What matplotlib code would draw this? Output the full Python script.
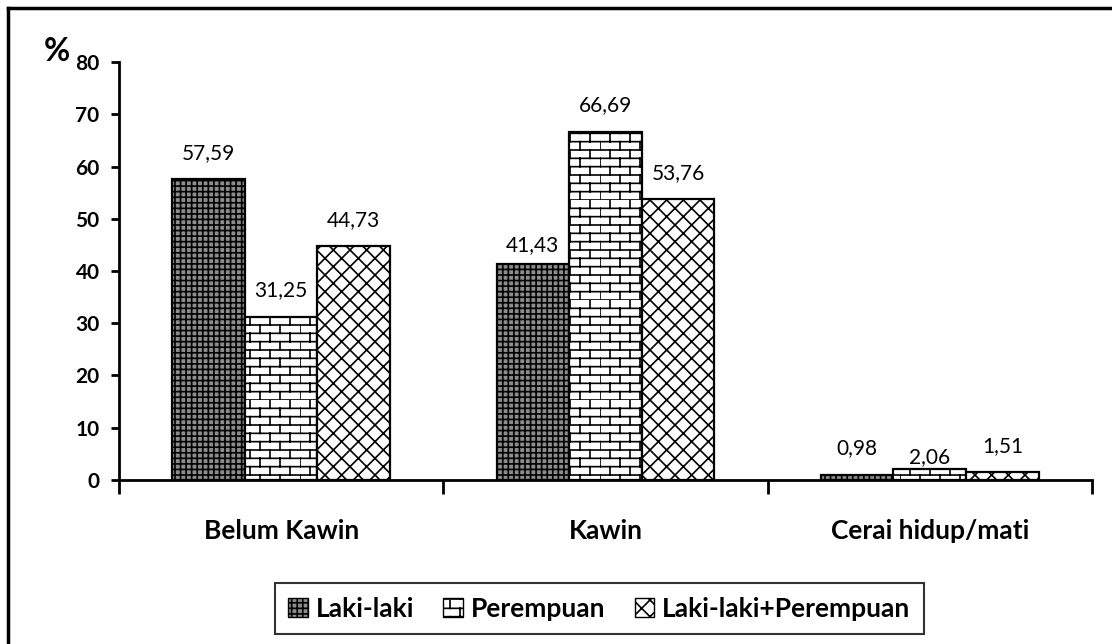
import warnings
import matplotlib
matplotlib.use("Agg")
import matplotlib.pyplot as plt
import numpy as np
from matplotlib import hatch as mhatch
from matplotlib.path import Path
from matplotlib.lines import Line2D
from matplotlib.patches import Patch

warnings.filterwarnings("ignore")

categories = ["Belum Kawin", "Kawin", "Cerai hidup/mati"]
series_names = ["Laki-laki", "Perempuan", "Laki-laki+Perempuan"]
laki = [57.59, 41.43, 0.98]
perempuan = [31.25, 66.69, 2.06]
gabungan = [44.73, 53.76, 1.51]
yticks = [0, 10, 20, 30, 40, 50, 60, 70, 80]


class BrickHatch(mhatch.HatchPatternBase):
    """Brick wall pattern, used with the 'b' hatch character."""

    def __init__(self, hatch, density):
        self.rows = 12 * hatch.count("b")
        self.cols = 5
        self.num_vertices = 2 * (self.rows + self.rows * self.cols)

    def set_vertices_and_codes(self, vertices, codes):
        i = 0
        for k in range(self.rows):
            y0 = k / self.rows
            y1 = (k + 1) / self.rows
            vertices[i] = (0, y0)
            vertices[i + 1] = (1, y0)
            codes[i] = Path.MOVETO
            codes[i + 1] = Path.LINETO
            i += 2
            shift = 0.5 * (k % 2)
            for m in range(self.cols):
                xv = (m + shift) / self.cols
                vertices[i] = (xv, y0)
                vertices[i + 1] = (xv, y1)
                codes[i] = Path.MOVETO
                codes[i + 1] = Path.LINETO
                i += 2


mhatch._hatch_types.append(BrickHatch)

plt.rcParams["font.family"] = ["Lato", "DejaVu Sans"]
plt.rcParams["hatch.linewidth"] = 1.2

fig = plt.figure(figsize=(11.12, 6.44), dpi=100)
ax = fig.add_axes([0.107, 0.2547, 0.875, 0.649])

series = [laki, perempuan, gabungan]
faces = ["#8c8c8c", "white", "white"]
hatches = ["+++", "b", "xx"]
# label offsets in points above bar top
offsets = [[19, 13, 19], [19, 19, 9], [19, 19, 19]]

x = np.arange(len(categories))
w = 0.224
for i, vals in enumerate(series):
    pos = x + (i - 1) * w
    bars = ax.bar(pos, vals, w, color=faces[i], edgecolor="black",
                  hatch=hatches[i], linewidth=1.6, zorder=2)
    for j, (b, v) in enumerate(zip(bars, vals)):
        ax.annotate(f"{v:.2f}".replace(".", ","),
                    (b.get_x() + b.get_width() / 2, v),
                    xytext=(0, offsets[i][j]), textcoords="offset points",
                    ha="center", va="center", fontsize=15)

ax.set_xlim(-0.5, 2.5)
ax.set_ylim(0, 80)
ax.set_yticks(yticks)
ax.set_yticklabels([str(t) for t in yticks], fontweight="bold", fontsize=15)
ax.set_xticks([-0.5, 0.5, 1.5, 2.5])
ax.set_xticklabels([])
ax.tick_params(axis="y", direction="out", length=6, width=2, pad=8)
ax.tick_params(axis="x", direction="out", length=10, width=2)
for c, name in zip(x, categories):
    ax.text(c, -9.8, name, ha="center", va="center",
            fontsize=19, fontweight="bold")

for s in ["top", "right"]:
    ax.spines[s].set_visible(False)
for s in ["left", "bottom"]:
    ax.spines[s].set_linewidth(2)

ax.text(-0.064, 1.024, "%", transform=ax.transAxes, fontsize=23,
        fontweight="bold", ha="center", va="center")

handles = [Patch(facecolor=faces[i], edgecolor="black", hatch=hatches[i])
           for i in range(3)]
leg = fig.legend(handles, series_names, loc="center",
                 bbox_to_anchor=(0.539, 0.055), ncol=3, frameon=True,
                 fancybox=False, edgecolor="black", handlelength=0.75,
                 handleheight=0.75, handletextpad=0.3, columnspacing=1.1,
                 borderpad=0.5, prop={"weight": "bold", "size": 19})
leg.get_frame().set_linewidth(1.5)

# outer frame (left and top edges visible)
fig.add_artist(Line2D([8 / 1112, 8 / 1112], [0, 1 - 8 / 644],
                      color="black", lw=2.5, transform=fig.transFigure))
fig.add_artist(Line2D([8 / 1112, 1], [1 - 8 / 644, 1 - 8 / 644],
                      color="black", lw=2.5, transform=fig.transFigure))

fig.savefig("out.png", dpi=100)
